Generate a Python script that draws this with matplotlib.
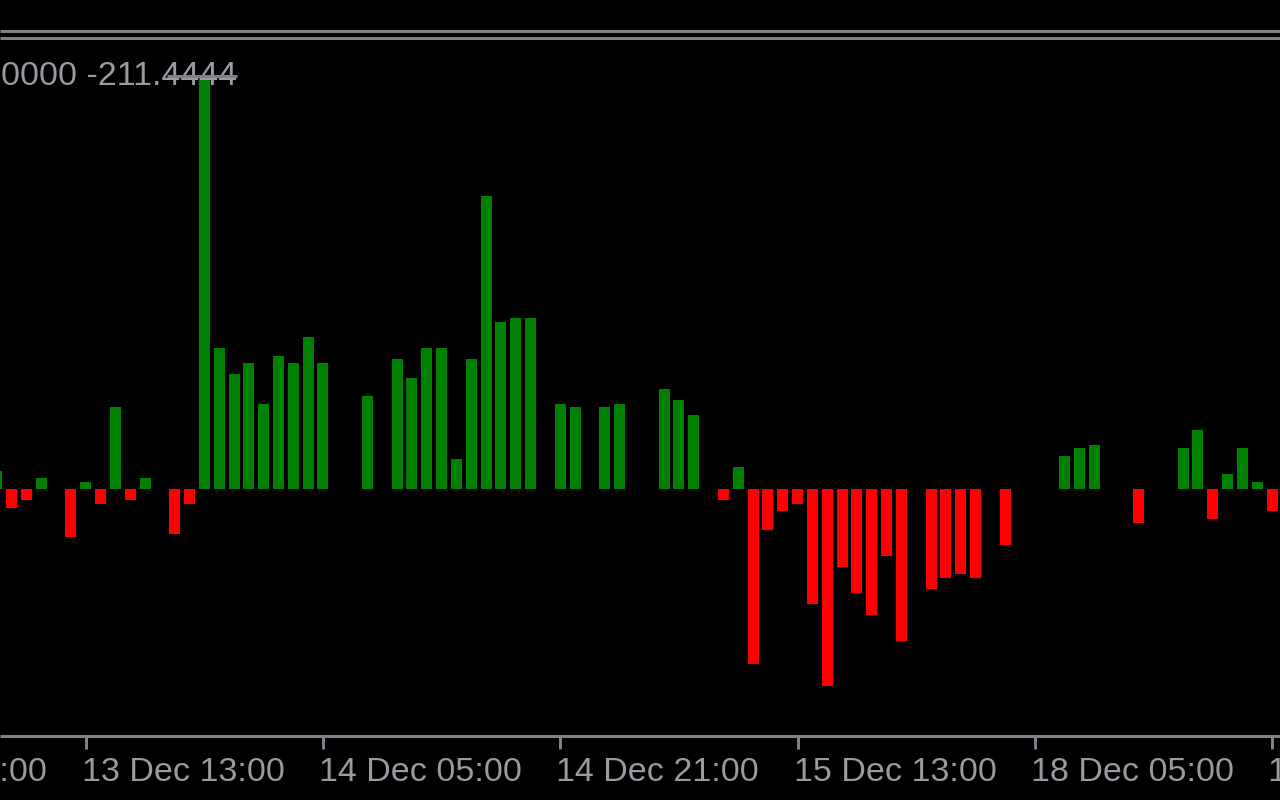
import matplotlib
matplotlib.use("Agg")
import matplotlib.pyplot as plt
import matplotlib.transforms as mtransforms
from matplotlib.lines import Line2D

# ---------------- data ----------------
bar_index = list(range(-6, 81))
values = [
    9, -9.5, -5.5, 5.5, 0, -24,             # -6 .. -1
    3.5, -7.5, 41, -5.5, 5.5, 0, -22.5, -7.5,  # 0 .. 7
    206.5, 70.5, 57.5, 63, 42.5, 66.5, 63, 76,  # 8 .. 15
    63, 0, 0, 46.5, 0, 65, 55.5, 70.5,          # 16 .. 23
    70.5, 15, 65, 146.5, 83.5, 85.5, 85.5, 0,   # 24 .. 31
    42.5, 41, 0, 41, 42.5, 0, 0, 50,            # 32 .. 39
    44.5, 37, 0, -5.5, 11, -87.5, -20.5, -11,   # 40 .. 47
    -7.5, -57.5, -98.5, -39, -52, -63, -33.5, -76,  # 48 .. 55
    0, -50, -44.5, -42.5, -44.5, 0, -28, 0,     # 56 .. 63
    0, 0, 16.5, 20.5, 22, 0, 0, -17,            # 64 .. 71
    0, 0, 20.5, 29.5, -15, 7.5, 20.5, 3.5,      # 72 .. 79
    -11,                                        # 80
]
tick_bars = [-16, 0, 16, 32, 48, 64, 80]
tick_labels = ["12 Dec 21:00", "13 Dec 13:00", "14 Dec 05:00", "14 Dec 21:00",
               "15 Dec 13:00", "18 Dec 05:00", "18 Dec 21:00"]
header_text = "0000 -211.4444"

# ---------------- styling ----------------
W, H = 1280, 800
BG = "#000000"
GREEN = "#008000"
RED = "#ff0000"
GRAY = "#808088"
TEXT = "#9a9aa2"
PX = 0.72  # points per pixel at dpi 100

plt.rcParams['font.family'] = ['Liberation Sans', 'DejaVu Sans']

fig = plt.figure(figsize=(12.8, 8), dpi=100, facecolor=BG)
ax = fig.add_axes([0, 0, 1, 1])
ax.set_facecolor(BG)

x0_px, step_px = 85.7, 14.83
ax.set_xlim(-x0_px / step_px, (W - x0_px) / step_px)
zero_px, px_per_unit = 489, 2.0
ax.set_ylim(-(H - zero_px) / px_per_unit, zero_px / px_per_unit)
ax.axis('off')

colors = [GREEN if v >= 0 else RED for v in values]
ax.bar(bar_index, values, width=11 / step_px, color=colors, linewidth=0,
       antialiased=False, zorder=2)

def fy(py):
    return 1 - py / H

# top separator lines
for py in (30.5, 37.5):
    fig.add_artist(Line2D([0, 1], [fy(py), fy(py)], transform=fig.transFigure,
                          color=GRAY, lw=3 * PX, solid_capstyle='butt'))

# header text and its small line
fig.text(1 / W, fy(85), header_text, color=TEXT, fontsize=24.5,
         va='baseline', ha='left')
fig.add_artist(Line2D([167 / W, 237 / W], [fy(75.5), fy(75.5)],
                      transform=fig.transFigure, color=GRAY, lw=3 * PX,
                      solid_capstyle='butt', zorder=5))

# bottom time axis
fig.add_artist(Line2D([0, 1], [fy(735.5), fy(735.5)], transform=fig.transFigure,
                      color=GRAY, lw=3 * PX, solid_capstyle='butt'))
blend = mtransforms.blended_transform_factory(ax.transData, fig.transFigure)
label_tr = mtransforms.offset_copy(blend, fig=fig, x=-4, y=0, units='dots')
for tb, lab in zip(tick_bars, tick_labels):
    ax.add_artist(Line2D([tb, tb], [fy(737), fy(749)], transform=blend,
                         color=GRAY, lw=3 * PX, solid_capstyle='butt',
                         clip_on=False))
    ax.text(tb, fy(781), lab, transform=label_tr, color=TEXT, fontsize=24.5,
            ha='left', va='baseline', clip_on=False)

fig.savefig("out.png", dpi=100, facecolor=BG)
